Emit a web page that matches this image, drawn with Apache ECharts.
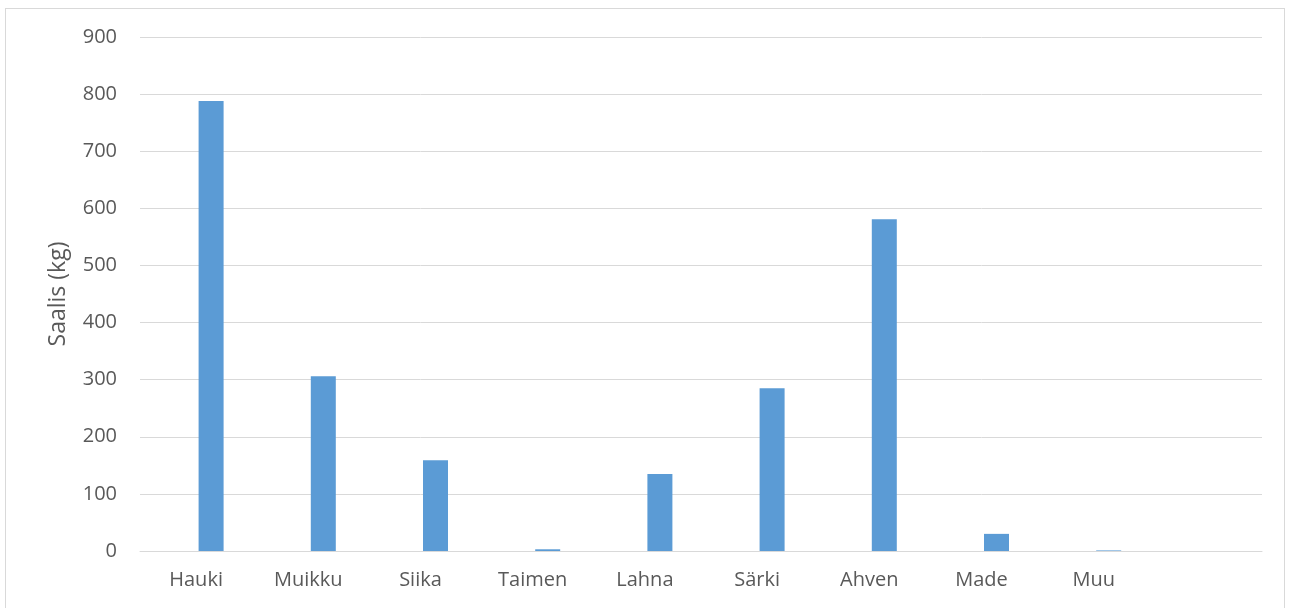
<!DOCTYPE html>
<html>
<head>
<meta charset="utf-8">
<script src="https://cdn.jsdelivr.net/npm/echarts@6/dist/echarts.min.js"></script>
<style>
html,body{margin:0;padding:0;background:#fff;overflow:hidden;}
#frame{position:absolute;left:5px;top:8px;width:1280px;height:620px;border:1px solid #d9d9d9;box-sizing:border-box;}
#chart{position:absolute;left:0;top:0;width:1290px;height:608px;}
</style>
</head>
<body>
<div id="frame"></div>
<div id="chart"></div>
<script>
const categories = ['Hauki','Muikku','Siika','Taimen','Lahna','Särki','Ahven','Made','Muu',''];
const catchKg = [788, 306, 159, 3, 135, 285, 581, 30, 1, null];
const emptySeries = [null, null, null, null, null, null, null, null, null, null];
const yTicks = { min: 0, max: 900, interval: 100 };

const chart = echarts.init(document.getElementById('chart'), null, {renderer:'canvas'});
const fam = 'Open Sans, Calibri, sans-serif';
chart.setOption({
  animation: false,
  grid: { left: 140, right: 28, top: 37, bottom: 57 },
  xAxis: {
    type: 'category',
    data: categories,
    axisLine: { lineStyle: { color: '#d9d9d9', width: 1 } },
    axisTick: { show: false },
    axisLabel: { color: '#595959', fontSize: 20, fontFamily: fam, margin: 19, interval: 0 }
  },
  yAxis: {
    type: 'value',
    min: yTicks.min, max: yTicks.max, interval: yTicks.interval,
    name: 'Saalis (kg)',
    nameLocation: 'middle',
    nameRotate: 90,
    nameGap: 70,
    nameTextStyle: { color: '#595959', fontSize: 23, fontFamily: fam },
    axisLine: { show: false },
    axisTick: { show: false },
    axisLabel: { color: '#595959', fontSize: 20, fontFamily: fam, margin: 23 },
    splitLine: { lineStyle: { color: '#d9d9d9', width: 1 } }
  },
  series: [
    { type: 'bar', data: emptySeries, barWidth: 25, barGap: '20%', itemStyle: { color: 'transparent' } },
    { type: 'bar', data: catchKg, barWidth: 25, barGap: '20%', itemStyle: { color: '#5b9bd5' } }
  ]
});
</script>
</body>
</html>
